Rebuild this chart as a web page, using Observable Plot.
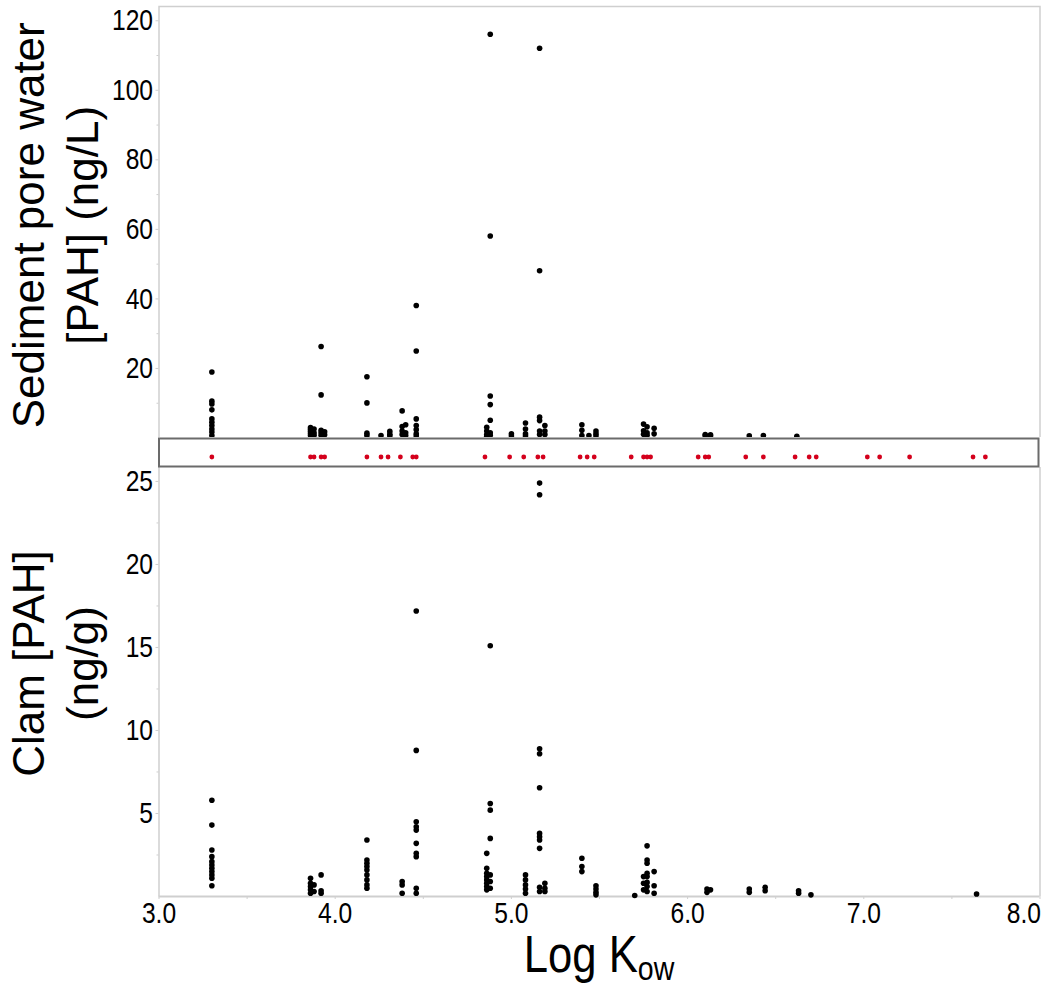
<!DOCTYPE html>
<html><head><meta charset="utf-8">
<script src="https://cdn.jsdelivr.net/npm/d3@7"></script>
<script src="https://cdn.jsdelivr.net/npm/@observablehq/plot@0.6"></script>
<style>
body{margin:0;background:#fff;}
#wrap{position:relative;width:1050px;height:987px;overflow:hidden;}
#wrap svg{position:absolute;left:0;overflow:visible;max-width:none;}
</style></head><body><div id="wrap"></div>
<script>
// ---- data ----
const poreKow = [3.30, 3.86, 3.88, 3.92, 3.94, 4.18, 4.26, 4.31, 4.38, 4.40, 4.46, 4.86, 4.88, 5.00, 5.08, 5.16, 5.19, 5.40, 5.44, 5.48, 5.75, 5.77, 5.81, 6.10, 6.13, 6.35, 6.43, 6.62];
const poreConc = [
  [19.0, 10.6, 9.8, 8.1, 5.5, 4.5, 3.6, 2.6, 1.7, 0.7],
  [3.0, 2.5, 1.9, 1.3, 0.7],
  [2.6, 1.5, 0.8],
  [26.3, 12.4, 2.2, 1.5, 0.8],
  [1.8, 0.9],
  [17.6, 10.1, 1.4, 0.7],
  [0.7],
  [1.9, 1.1, 0.6],
  [7.8, 3.3, 2.0, 1.0],
  [3.8, 1.5, 0.7],
  [38.1, 25.0, 5.5, 3.6, 2.4, 1.2, 0.6],
  [3.1, 2.0, 1.0, 0.5],
  [116.1, 58.1, 12.1, 9.6, 5.1, 1.5, 0.8],
  [1.2, 0.6],
  [4.3, 2.6, 1.2, 0.6],
  [112.1, 48.1, 6.0, 5.0, 2.0, 1.0],
  [3.6, 2.0, 1.0],
  [3.8, 2.2, 0.7],
  [0.7],
  [2.0, 1.2, 0.6],
  [4.0, 2.1, 1.1],
  [3.2, 1.5, 0.8],
  [2.8, 1.2],
  [1.0, 0.6],
  [0.9, 0.6],
  [0.6],
  [0.7],
  [0.5]
];
const clamKow = [3.30, 3.86, 3.88, 3.92, 4.18, 4.38, 4.46, 4.86, 4.88, 5.08, 5.16, 5.19, 5.40, 5.48, 5.70, 5.75, 5.77, 5.81, 6.11, 6.13, 6.35, 6.44, 6.63, 6.70, 7.64];
const clamConc = [
  [5.8, 4.3, 2.8, 2.4, 2.1, 1.9, 1.7, 1.5, 1.3, 1.1, 0.65],
  [1.1, 0.8, 0.6, 0.4, 0.2],
  [0.7, 0.3],
  [1.3, 0.35, 0.2],
  [3.4, 2.2, 2.0, 1.8, 1.6, 1.3, 1.0, 0.7, 0.5],
  [0.9, 0.7, 0.2],
  [17.2, 8.8, 4.5, 4.2, 4.0, 3.2, 2.6, 2.4, 0.5, 0.2],
  [2.6, 1.7, 1.4, 1.2, 1.0, 0.8, 0.6, 0.4],
  [15.1, 5.6, 5.2, 3.5, 1.3, 0.9, 0.5],
  [1.3, 1.0, 0.7, 0.45, 0.2],
  [24.9, 24.2, 8.9, 8.6, 6.55, 3.8, 3.6, 3.4, 2.9, 0.55, 0.3],
  [0.8, 0.5, 0.3],
  [2.3, 1.8, 1.5],
  [0.65, 0.45, 0.25, 0.1],
  [0.06],
  [1.2, 0.8, 0.4],
  [3.05, 2.2, 2.0, 1.4, 1.2, 0.85, 0.6, 0.3],
  [1.5, 0.65, 0.2],
  [0.45, 0.25],
  [0.4],
  [0.45, 0.25],
  [0.55, 0.35],
  [0.35, 0.2],
  [0.1],
  [0.15]
];
const pahKow = [3.30, 3.86, 3.88, 3.92, 3.94, 4.18, 4.26, 4.30, 4.37, 4.44, 4.46, 4.85, 4.99, 5.07, 5.15, 5.18, 5.39, 5.43, 5.47, 5.68, 5.75, 5.77, 5.79, 6.06, 6.10, 6.12, 6.33, 6.43, 6.61, 6.69, 6.73, 7.02, 7.09, 7.26, 7.62, 7.69];
const xTicks = [3, 4, 5, 6, 7, 8];
const xMinor = [3.5, 4.5, 5.5, 6.5, 7.5];
const poreTicks = [20, 40, 60, 80, 100, 120];
const poreMinor = [10, 30, 50, 70, 90, 110];
const clamTicks = [5, 10, 15, 20, 25];
const clamMinor = [2.5, 7.5, 12.5, 17.5, 22.5];

const poreData = poreKow.flatMap((k, i) => poreConc[i].map(v => ({kow: k, conc: v})));
const clamData = clamKow.flatMap((k, i) => clamConc[i].map(v => ({kow: k, conc: v})));

// ---- styles ----
const narrow = "'Liberation Sans Narrow','Arial Narrow','Liberation Sans',Arial,sans-serif";
const regular = "'Liberation Sans',Arial,sans-serif";
const W = 1050, ML = 158.5, MR = 10.5;
const gridGray = "#cfcfcf";
const tickFont = 30;
const squeeze = 0.82;
const titleSqueeze = 0.84;
const wrap = document.getElementById("wrap");

function place(svg, y) { svg.style.top = y + "px"; wrap.appendChild(svg); }
// condense tick labels (narrow face not installed)
function condense(svg) {
  d3.select(svg).selectAll("g[aria-label$='tick label'] text").each(function () {
    const w = this.getComputedTextLength();
    if (w > 0) {
      this.setAttribute("textLength", w * squeeze);
      this.setAttribute("lengthAdjust", "spacingAndGlyphs");
    }
  });
}

// ---- top panel ----
const porePlot = Plot.plot({
  width: W, height: 438, marginTop: 6, marginBottom: 0.5, marginLeft: ML, marginRight: MR,
  style: {fontFamily: narrow, background: "transparent"},
  x: {domain: [3, 8], axis: null},
  y: {domain: [0, 124.1]},
  marks: [
    Plot.frame({stroke: gridGray, strokeWidth: 1.5}),
    Plot.axisY(poreMinor, {tickSize: 2, tickFormat: () => "", stroke: gridGray, label: null}),
    Plot.axisY(poreTicks, {tickSize: 3, tickPadding: 3, fontSize: tickFont, stroke: gridGray, fill: "black", label: null}),
    Plot.dot(poreData, {x: "kow", y: "conc", r: 2.8, fill: "black"}),
    Plot.text(["Sediment pore water\n[PAH] (ng/L)"], {frameAnchor: "left", textAnchor: "middle", rotate: -90, dx: -105.5, dy: 3, fontSize: 44, lineHeight: 1.23, fontFamily: regular, fill: "black"})
  ]
});
place(porePlot, 0);
condense(porePlot);

// ---- bottom panel ----
const clamPlot = Plot.plot({
  width: W, height: 521, marginTop: 0, marginBottom: 91, marginLeft: ML, marginRight: MR,
  style: {fontFamily: narrow, background: "transparent"},
  x: {domain: [3, 8]},
  y: {domain: [0, 25.9]},
  marks: [
    Plot.ruleX([3, 8], {stroke: gridGray, strokeWidth: 1.5}),
    Plot.ruleY([0], {stroke: gridGray, strokeWidth: 2}),
    Plot.axisY(clamMinor, {tickSize: 2, tickFormat: () => "", stroke: gridGray, label: null}),
    Plot.axisY(clamTicks, {tickSize: 3, tickPadding: 3, fontSize: tickFont, stroke: gridGray, fill: "black", label: null}),
    Plot.axisX(xMinor, {tickSize: 3, tickFormat: () => "", stroke: gridGray, label: null}),
    Plot.axisX(xTicks, {tickSize: 3, tickPadding: 2, fontSize: tickFont, stroke: gridGray, fill: "black", tickFormat: d3.format(".1f"), label: null}),
    Plot.dot(clamData, {x: "kow", y: "conc", r: 2.8, fill: "black"}),
    Plot.text(["Clam [PAH]\n(ng/g)"], {frameAnchor: "left", textAnchor: "middle", rotate: -90, dx: -105.5, dy: -18, fontSize: 44, lineHeight: 1.23, fontFamily: regular, fill: "black"})
  ]
});
place(clamPlot, 466);
condense(clamPlot);
// keep the last x tick label inside the frame
d3.select(clamPlot).selectAll("g[aria-label='x-axis tick label'] text")
  .filter(function () { return this.textContent === "8.0"; })
  .attr("text-anchor", "end").attr("dx", 1);

// x-axis title with subscript
const xTitle = d3.select(clamPlot).append("text")
  .attr("transform", `translate(${(ML + W - MR) / 2},${972 - 466}) scale(${titleSqueeze},1)`)
  .attr("text-anchor", "middle").attr("font-family", regular).attr("font-size", 52).attr("fill", "black");
xTitle.append("tspan").text("Log K");
xTitle.append("tspan").attr("font-size", 34).attr("dy", 8).text("ow");

// ---- middle strip with PAH Kow markers ----
const stripPlot = Plot.plot({
  width: W, height: 30, marginTop: 1, marginBottom: 1, marginLeft: ML, marginRight: MR + 1.5,
  style: {background: "white"},
  x: {domain: [3, 8 - 1.5 / 881.5 * 5], axis: null},
  y: {domain: [0, 1], axis: null},
  marks: [
    Plot.frame({stroke: "#6b6b6b", strokeWidth: 2}),
    Plot.dot(pahKow, {x: d => d, y: () => 0.34, r: 2.4, fill: "#d4001c"})
  ]
});
place(stripPlot, 436.5);
</script></body></html>
